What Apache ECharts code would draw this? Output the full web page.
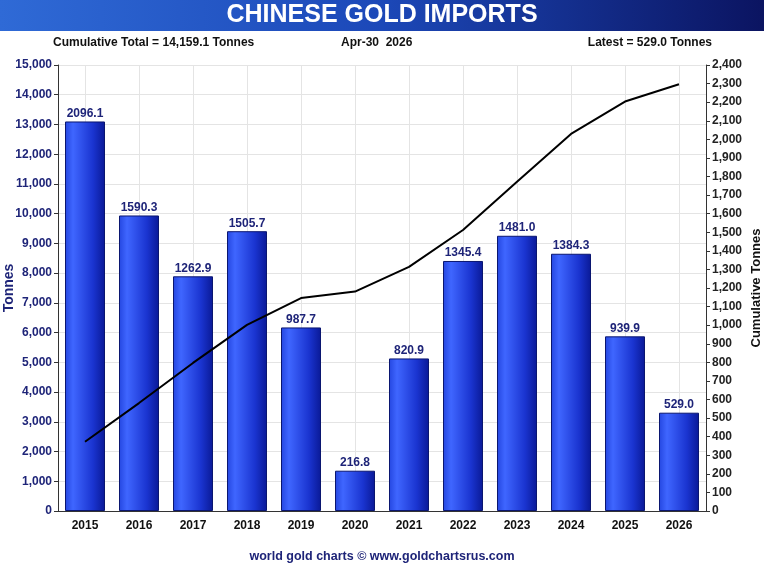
<!DOCTYPE html>
<html>
<head>
<meta charset="utf-8">
<title>Chinese Gold Imports</title>
<script src="https://cdn.jsdelivr.net/npm/echarts@6/dist/echarts.min.js"></script>
<style>
    html, body { margin: 0; padding: 0; background: #fff; }
    #chart { width: 764px; height: 568px; }
</style>
</head>
<body>
<div id="chart"></div>
<script>
// years on the x axis
var years = ['2015', '2016', '2017', '2018', '2019', '2020', '2021', '2022', '2023', '2024', '2025', '2026'];
// yearly imports, tonnes (bars, right axis)
var imports = [2096.1, 1590.3, 1262.9, 1505.7, 987.7, 216.8, 820.9, 1345.4, 1481.0, 1384.3, 939.9, 529.0];
// cumulative line, tonnes
var cumulative = [2330, 3630, 4980, 6260, 7160, 7380, 8210, 9450, 11070, 12680, 13770, 14350];
// axis ranges
var leftMax = 15000, leftStep = 1000;
var rightMax = 2400, rightStep = 100;
// header texts
var headLeft = 'Cumulative Total = 14,159.1 Tonnes';
var headMid = 'Apr-30  2026';
var headRight = 'Latest = 529.0 Tonnes';

var sans = '"Liberation Sans", Arial, sans-serif';
var navy = '#1e2478';

function comma(v) {
    return String(v).replace(/\B(?=(\d{3})+(?!\d))/g, ',');
}

var myChart = echarts.init(document.getElementById('chart'));
var option = {
    backgroundColor: '#fff',
    animation: false,
    graphic: [
        { // title banner
            type: 'rect', left: 0, top: 0, z: 0,
            shape: { width: 764, height: 31 },
            style: {
                fill: new echarts.graphic.LinearGradient(0, 0, 1, 0, [
                    { offset: 0, color: '#2f6ad6' },
                    { offset: 0.5, color: '#1c48b8' },
                    { offset: 1, color: '#0b1461' }
                ])
            }
        },
        {
            type: 'text', left: 'center', top: 3, z: 2,
            style: { text: 'CHINESE GOLD IMPORTS', fill: '#fff', font: 'bold 25px ' + sans }
        },
        {
            type: 'text', left: 53, top: 37, z: 2,
            style: { text: headLeft, fill: '#111', font: 'bold 12px ' + sans }
        },
        {
            type: 'text', left: 341, top: 37, z: 2,
            style: { text: headMid, fill: '#111', font: 'bold 12px ' + sans }
        },
        {
            type: 'text', right: 52, top: 37, z: 2,
            style: { text: headRight, fill: '#111', font: 'bold 12px ' + sans }
        },
        {
            type: 'text', left: 'center', top: 550, z: 2,
            style: { text: 'world gold charts \u00a9 www.goldchartsrus.com', fill: navy, font: 'bold 12.5px ' + sans }
        }
    ],
    grid: { left: 58, right: 58, top: 65, bottom: 57, containLabel: false, outerBoundsMode: 'none' },
    xAxis: {
        type: 'category',
        data: years,
        boundaryGap: true,
        axisLine: { lineStyle: { color: '#333', width: 1 } },
        axisTick: { alignWithLabel: true, length: 4, lineStyle: { color: '#333' } },
        axisLabel: { color: '#111', fontWeight: 'bold', fontSize: 12, fontFamily: sans, margin: 9 },
        splitLine: { show: true, alignWithLabel: true, lineStyle: { color: '#e4e4e4' } }
    },
    yAxis: [
        {
            type: 'value',
            min: 0, max: leftMax, interval: leftStep,
            name: 'Tonnes',
            nameLocation: 'middle',
            nameGap: 42,
            nameMoveOverlap: false,
            nameTextStyle: { color: navy, fontWeight: 'bold', fontSize: 14, fontFamily: sans },
            axisLine: { show: true, lineStyle: { color: '#333' } },
            axisTick: { show: true, length: 4, lineStyle: { color: '#333' } },
            axisLabel: { color: navy, fontWeight: 'bold', fontSize: 12, fontFamily: sans, margin: 6, formatter: comma },
            splitLine: { show: true, lineStyle: { color: '#e4e4e4' } }
        },
        {
            type: 'value',
            min: 0, max: rightMax, interval: rightStep,
            name: 'Cumulative Tonnes',
            nameLocation: 'middle',
            nameGap: 44,
            nameRotate: 90,
            nameMoveOverlap: false,
            nameTextStyle: { color: '#111', fontWeight: 'bold', fontSize: 13, fontFamily: sans },
            axisLine: { show: true, lineStyle: { color: '#333' } },
            axisTick: { show: true, length: 4, lineStyle: { color: '#333' } },
            axisLabel: { color: '#222', fontWeight: 'bold', fontSize: 12, fontFamily: sans, margin: 6, formatter: comma },
            splitLine: { show: false }
        }
    ],
    series: [
        {
            name: 'Imports',
            type: 'bar',
            yAxisIndex: 1,
            barWidth: 40,
            data: imports,
            itemStyle: {
                borderColor: '#0a1670',
                borderWidth: 1,
                color: new echarts.graphic.LinearGradient(0, 0, 1, 0, [
                    { offset: 0, color: '#2446e0' },
                    { offset: 0.2, color: '#3f66ff' },
                    { offset: 0.7, color: '#1a34d0' },
                    { offset: 1, color: '#0a1996' }
                ])
            },
            label: {
                show: true,
                position: 'top',
                distance: 2,
                color: navy,
                fontWeight: 'bold',
                fontSize: 12,
                fontFamily: sans,
                formatter: function (p) { return p.value.toFixed(1); }
            },
            z: 2
        },
        {
            name: 'Cumulative',
            type: 'line',
            yAxisIndex: 0,
            data: cumulative,
            symbol: 'none',
            lineStyle: { color: '#000', width: 2 },
            z: 3
        }
    ]
};
myChart.setOption(option);
</script>
</body>
</html>
